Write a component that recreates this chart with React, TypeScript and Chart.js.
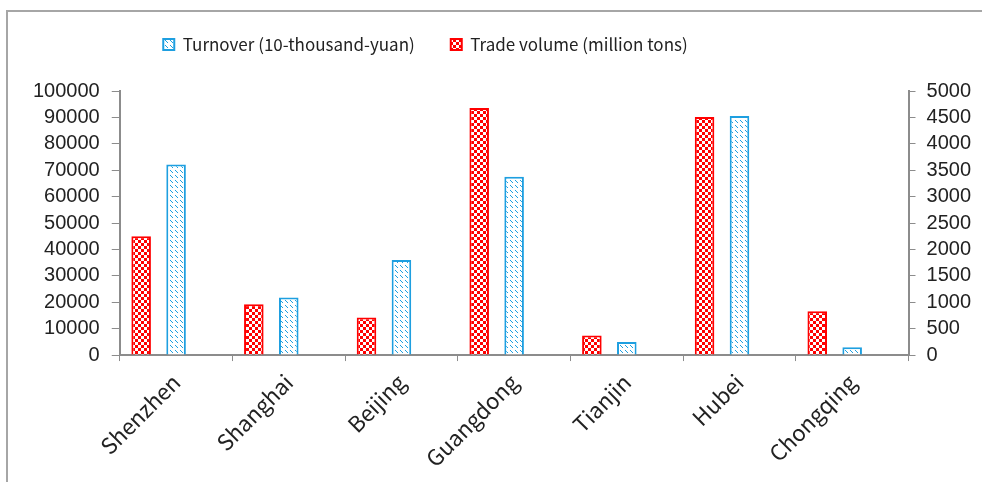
import React, { useEffect, useRef } from "react";
import { Chart, registerables } from "chart.js";

Chart.register(...registerables);

const categories = ["Shenzhen", "Shanghai", "Beijing", "Guangdong", "Tianjin", "Hubei", "Chongqing"];
const turnover = [72200, 21800, 36000, 67500, 4900, 90500, 3000];
const tradeVolume = [2250, 960, 710, 4680, 370, 4510, 830];
const turnoverLabel = "Turnover (10-thousand-yuan)";
const tradeLabel = "Trade volume (million tons)";

const RED = "#FF0000";
const BLUE = "#1E9FE0";

function makeChecker(): CanvasPattern | string {
  const c = document.createElement("canvas");
  c.width = 6;
  c.height = 6;
  const g = c.getContext("2d")!;
  g.fillStyle = "#ffffff";
  g.fillRect(0, 0, 6, 6);
  g.fillStyle = RED;
  g.fillRect(0, 0, 3, 3);
  g.fillRect(3, 3, 3, 3);
  const p = g.createPattern(c, "repeat");
  return p || RED;
}

function makeHatch(): CanvasPattern | string {
  const c = document.createElement("canvas");
  c.width = 5;
  c.height = 5;
  const g = c.getContext("2d")!;
  g.fillStyle = "#ffffff";
  g.fillRect(0, 0, 5, 5);
  g.fillStyle = BLUE;
  g.fillRect(0, 0, 1, 1);
  g.fillRect(1, 1, 1, 1);
  g.fillRect(2, 2, 1, 1);
  const p = g.createPattern(c, "repeat");
  return p || BLUE;
}

const legendTweak = {
  id: "legendTweak",
  beforeLayout(chart: any) {
    const lg = chart.legend;
    if (lg && !lg._tweaked) {
      const orig = lg.fit.bind(lg);
      lg.fit = function () {
        orig();
        this.height += 28;
      };
      lg._tweaked = true;
    }
  },
  afterLayout(chart: any) {
    const lg = chart.legend;
    if (lg) {
      lg.left -= 76;
      lg.right -= 76;
    }
  },
};

export default function App() {
  const ref = useRef<HTMLCanvasElement | null>(null);

  useEffect(() => {
    document.body.style.margin = "0";
    if (!ref.current) return;
    const tickFont = { family: "'Liberation Sans', Arial, sans-serif", size: 20 };
    const labelFont = { family: "'Noto Sans CJK SC', 'Noto Sans', sans-serif", size: 22 };
    const legendFont = { family: "'Noto Sans CJK SC', 'Noto Sans', sans-serif", size: 17 };
    const plain = (v: any) => String(v);
    const chart = new Chart(ref.current, {
      type: "bar",
      data: {
        labels: categories,
        datasets: [
          {
            label: tradeLabel,
            data: tradeVolume,
            yAxisID: "y1",
            backgroundColor: makeChecker() as any,
            borderColor: RED,
            borderWidth: 2,
            categoryPercentage: 0.93,
            barPercentage: 0.56,
          },
          {
            label: turnoverLabel,
            data: turnover,
            yAxisID: "y",
            backgroundColor: makeHatch() as any,
            borderColor: BLUE,
            borderWidth: 2,
            categoryPercentage: 0.93,
            barPercentage: 0.56,
          },
          {
            label: "_pad",
            data: categories.map(() => null),
            yAxisID: "y",
            categoryPercentage: 0.93,
            barPercentage: 0.56,
          },
        ],
      },
      plugins: [legendTweak],
      options: {
        responsive: false,
        animation: false,
        layout: { padding: { left: 21, right: 0, top: 0, bottom: 2 } },
        plugins: {
          tooltip: { enabled: false },
          legend: {
            position: "top",
            labels: {
              filter: (item: any) => item.text !== "_pad",
              sort: (a: any, b: any) => b.datasetIndex - a.datasetIndex,
              font: legendFont,
              color: "#222",
              boxWidth: 11,
              boxHeight: 11,
              padding: 36,
            },
          },
        },
        scales: {
          x: {
            offset: true,
            grid: {
              display: true,
              drawOnChartArea: false,
              drawTicks: true,
              tickLength: 6,
              color: "#8c8c8c",
              offset: true,
            },
            border: { display: true, color: "#8c8c8c", width: 2 },
            ticks: {
              font: labelFont,
              color: "#222",
              minRotation: 45,
              maxRotation: 45,
              padding: 8,
              autoSkip: false,
            },
          },
          y: {
            position: "left",
            min: 0,
            max: 100000,
            ticks: { stepSize: 10000, font: tickFont, color: "#222", padding: 12, callback: plain, autoSkip: false },
            grid: { drawOnChartArea: false, drawTicks: true, tickLength: 8, color: "#8c8c8c" },
            border: { display: true, color: "#8c8c8c", width: 2 },
          },
          y1: {
            position: "right",
            min: 0,
            max: 5000,
            ticks: { stepSize: 500, font: tickFont, color: "#222", padding: 11, callback: plain, autoSkip: false },
            grid: { drawOnChartArea: false, drawTicks: true, tickLength: 7, color: "#8c8c8c" },
            border: { display: true, color: "#8c8c8c", width: 2 },
          },
        },
      },
    });
    return () => chart.destroy();
  }, []);

  return (
    <div style={{ position: "relative", width: 982, height: 482, background: "#fff" }}>
      <div
        style={{
          position: "absolute",
          left: 6,
          top: 10,
          width: 976,
          height: 472,
          borderLeft: "2px solid #a6a6a6",
          borderTop: "2px solid #a6a6a6",
          boxSizing: "border-box",
          pointerEvents: "none",
        }}
      />
      <canvas ref={ref} width={982} height={482} style={{ position: "absolute", left: 0, top: 0 }} />
    </div>
  );
}
